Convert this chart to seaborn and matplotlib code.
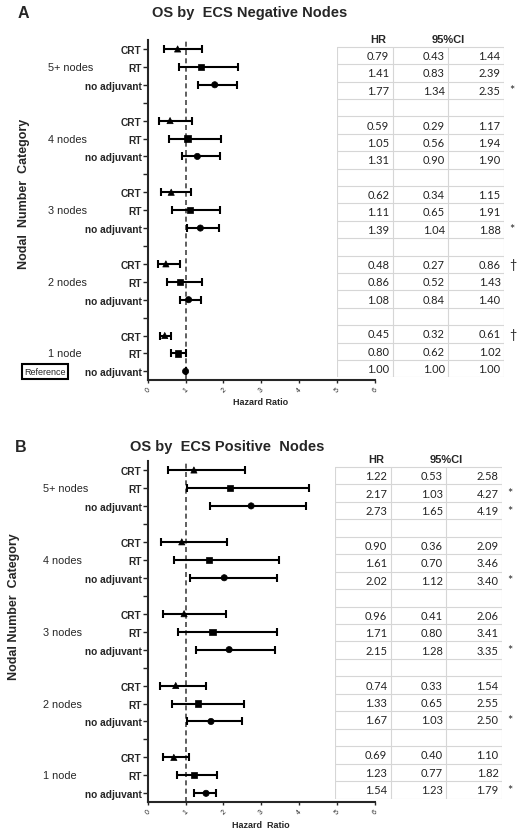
import numpy as np
import pandas as pd
import seaborn as sns
import matplotlib.pyplot as plt
from matplotlib.transforms import blended_transform_factory

# chart data
groups = ["5+ nodes", "4 nodes", "3 nodes", "2 nodes", "1 node"]
treatments = ["CRT", "RT", "no adjuvant"]

neg_hr = [0.79, 1.41, 1.77, 0.59, 1.05, 1.31, 0.62, 1.11, 1.39, 0.48, 0.86, 1.08, 0.45, 0.80, 1.00]
neg_lo = [0.43, 0.83, 1.34, 0.29, 0.56, 0.90, 0.34, 0.65, 1.04, 0.27, 0.52, 0.84, 0.32, 0.62, 1.00]
neg_hi = [1.44, 2.39, 2.35, 1.17, 1.94, 1.90, 1.15, 1.91, 1.88, 0.86, 1.43, 1.40, 0.61, 1.02, 1.00]
neg_sig = ["", "", "*", "", "", "", "", "", "*", "\u2020", "", "", "\u2020", "", ""]

pos_hr = [1.22, 2.17, 2.73, 0.90, 1.61, 2.02, 0.96, 1.71, 2.15, 0.74, 1.33, 1.67, 0.69, 1.23, 1.54]
pos_lo = [0.53, 1.03, 1.65, 0.36, 0.70, 1.12, 0.41, 0.80, 1.28, 0.33, 0.65, 1.03, 0.40, 0.77, 1.23]
pos_hi = [2.58, 4.27, 4.19, 2.09, 3.46, 3.40, 2.06, 3.41, 3.35, 1.54, 2.55, 2.50, 1.10, 1.82, 1.79]
pos_sig = ["", "*", "*", "", "", "*", "", "", "*", "", "", "*", "", "", "*"]

x_ticks = [0, 1, 2, 3, 4, 5, 6]

W, H = 522, 837
N_ROWS = len(groups) * 4 - 1


def px_rect(x0, y0, x1, y1):
    """pixel box (top-left origin) -> figure fraction rect"""
    return [x0 / W, 1 - y1 / H, (x1 - x0) / W, (y1 - y0) / H]


def build_frame(hr, lo, hi, sig):
    rows = []
    for gi, g in enumerate(groups):
        for ti, t in enumerate(treatments):
            k = gi * 3 + ti
            rows.append(dict(group=g, treatment=t, row=gi * 4 + ti,
                             hr=hr[k], lo=lo[k], hi=hi[k], sig=sig[k]))
    return pd.DataFrame(rows)


def draw_forest(fig, df, rect, group_x, reference=False):
    ax = fig.add_axes(rect)
    err = [df["hr"] - df["lo"], df["hi"] - df["hr"]]
    ax.errorbar(df["hr"], df["row"], xerr=err, fmt="none", ecolor="black",
                elinewidth=1.5, capsize=2.6, capthick=1.5, zorder=2)
    sns.scatterplot(data=df, x="hr", y="row", style="treatment",
                    markers={"CRT": "^", "RT": "s", "no adjuvant": "o"},
                    color="black", s=20, edgecolor="black", linewidth=0.5,
                    legend=False, ax=ax, zorder=3)
    ax.axvline(1, color="#444444", lw=1.2, ls=(0, (3, 2)), zorder=1)

    ax.set_xlim(0, 6)
    ax.set_ylim(N_ROWS - 0.5, -0.5)
    ax.set_xticks(x_ticks)
    ax.set_xticklabels([str(t) for t in x_ticks], rotation=45, fontsize=5)
    labels = [""] * N_ROWS
    for r, t in zip(df["row"], df["treatment"]):
        labels[r] = t
    ax.set_yticks(range(N_ROWS))
    ax.set_yticklabels(labels, fontsize=7.3, fontweight="bold")
    ax.tick_params(axis="y", length=3.5, width=1, pad=1)
    ax.tick_params(axis="x", length=2, width=1, pad=2)
    ax.set_xlabel("")
    ax.set_ylabel("")
    sns.despine(ax=ax)
    for s in ("left", "bottom"):
        ax.spines[s].set_linewidth(1.5)

    tr = blended_transform_factory(fig.transFigure, ax.transData)
    for gi, g in enumerate(groups):
        ax.text(group_x / W, gi * 4 + 1, g, transform=tr, ha="left",
                va="center", fontsize=7.8)
    if reference:
        ax.text(45 / W, N_ROWS - 1, "Reference", transform=tr, ha="center",
                va="center", fontsize=6.5,
                bbox=dict(boxstyle="square,pad=0.3", fc="white",
                          ec="black", lw=1.5))
    return ax


def draw_table(fig, df, rect):
    tab = fig.add_axes(rect)
    tab.set_xlim(0, 3)
    tab.set_ylim(N_ROWS + 0.0, -1)
    tab.axis("off")
    tab.add_patch(plt.Rectangle((0, 0), 3, N_ROWS, fc="white", ec="none"))
    grid = "#d6d6d6"
    for r in range(N_ROWS + 1):
        tab.plot([0, 3], [r, r], color=grid, lw=0.8)
    for c in range(4):
        tab.plot([c, c], [0, N_ROWS], color=grid, lw=0.8)
    tfont = ["Lato", "DejaVu Sans"]
    tab.text(0.74, -0.45, "HR", ha="center", va="center", fontsize=8,
             fontweight="bold", family=["Liberation Sans"])
    tab.text(2.0, -0.45, "95%CI", ha="center", va="center", fontsize=8,
             fontweight="bold", family=["Liberation Sans"])
    for _, d in df.iterrows():
        y = d["row"] + 0.5
        for c, v in enumerate([d["hr"], d["lo"], d["hi"]]):
            tab.text(c + 0.94, y, f"{v:.2f}", ha="right", va="center",
                     fontsize=8, family=tfont, color="#222222")
        if d["sig"]:
            tab.text(3.1, y, d["sig"], ha="left", va="center", fontsize=9,
                     family=tfont, clip_on=False)
    return tab


sns.set_style("ticks")
plt.rcParams["font.family"] = ["Liberation Sans", "DejaVu Sans"]

fig = plt.figure(figsize=(W / 100, H / 100), dpi=100)

# panel A
neg = build_frame(neg_hr, neg_lo, neg_hi, neg_sig)
draw_forest(fig, neg, px_rect(147.7, 41, 375, 381.3), 48, reference=True)
draw_table(fig, neg, px_rect(337, 30.3, 504, 378.3))
fig.text(23 / W, 1 - 13 / H, "A", fontsize=11.5, fontweight="bold", ha="center", va="center")
fig.text(250 / W, 1 - 13 / H, "OS by  ECS Negative Nodes", fontsize=10.5,
         fontweight="bold", ha="center", va="center")
fig.text(24 / W, 1 - 194 / H, "Nodal  Number  Category", rotation=90, fontsize=9,
         fontweight="bold", ha="center", va="center")
fig.text(261 / W, 1 - 403 / H, "Hazard Ratio", fontsize=6.5, fontweight="bold",
         ha="center", va="center")

# panel B
pos = build_frame(pos_hr, pos_lo, pos_hi, pos_sig)
draw_forest(fig, pos, px_rect(147.7, 462, 375, 803.3), 43)
draw_table(fig, pos, px_rect(335, 450.5, 502, 799.5))
fig.text(21 / W, 1 - 448 / H, "B", fontsize=11.5, fontweight="bold", ha="center", va="center")
fig.text(227 / W, 1 - 447 / H, "OS by  ECS Positive  Nodes", fontsize=10.5,
         fontweight="bold", ha="center", va="center")
fig.text(14 / W, 1 - 607 / H, "Nodal Number  Category", rotation=90, fontsize=9,
         fontweight="bold", ha="center", va="center")
fig.text(261 / W, 1 - 826 / H, "Hazard  Ratio", fontsize=6.5, fontweight="bold",
         ha="center", va="center")

fig.savefig("out.png", dpi=100)
